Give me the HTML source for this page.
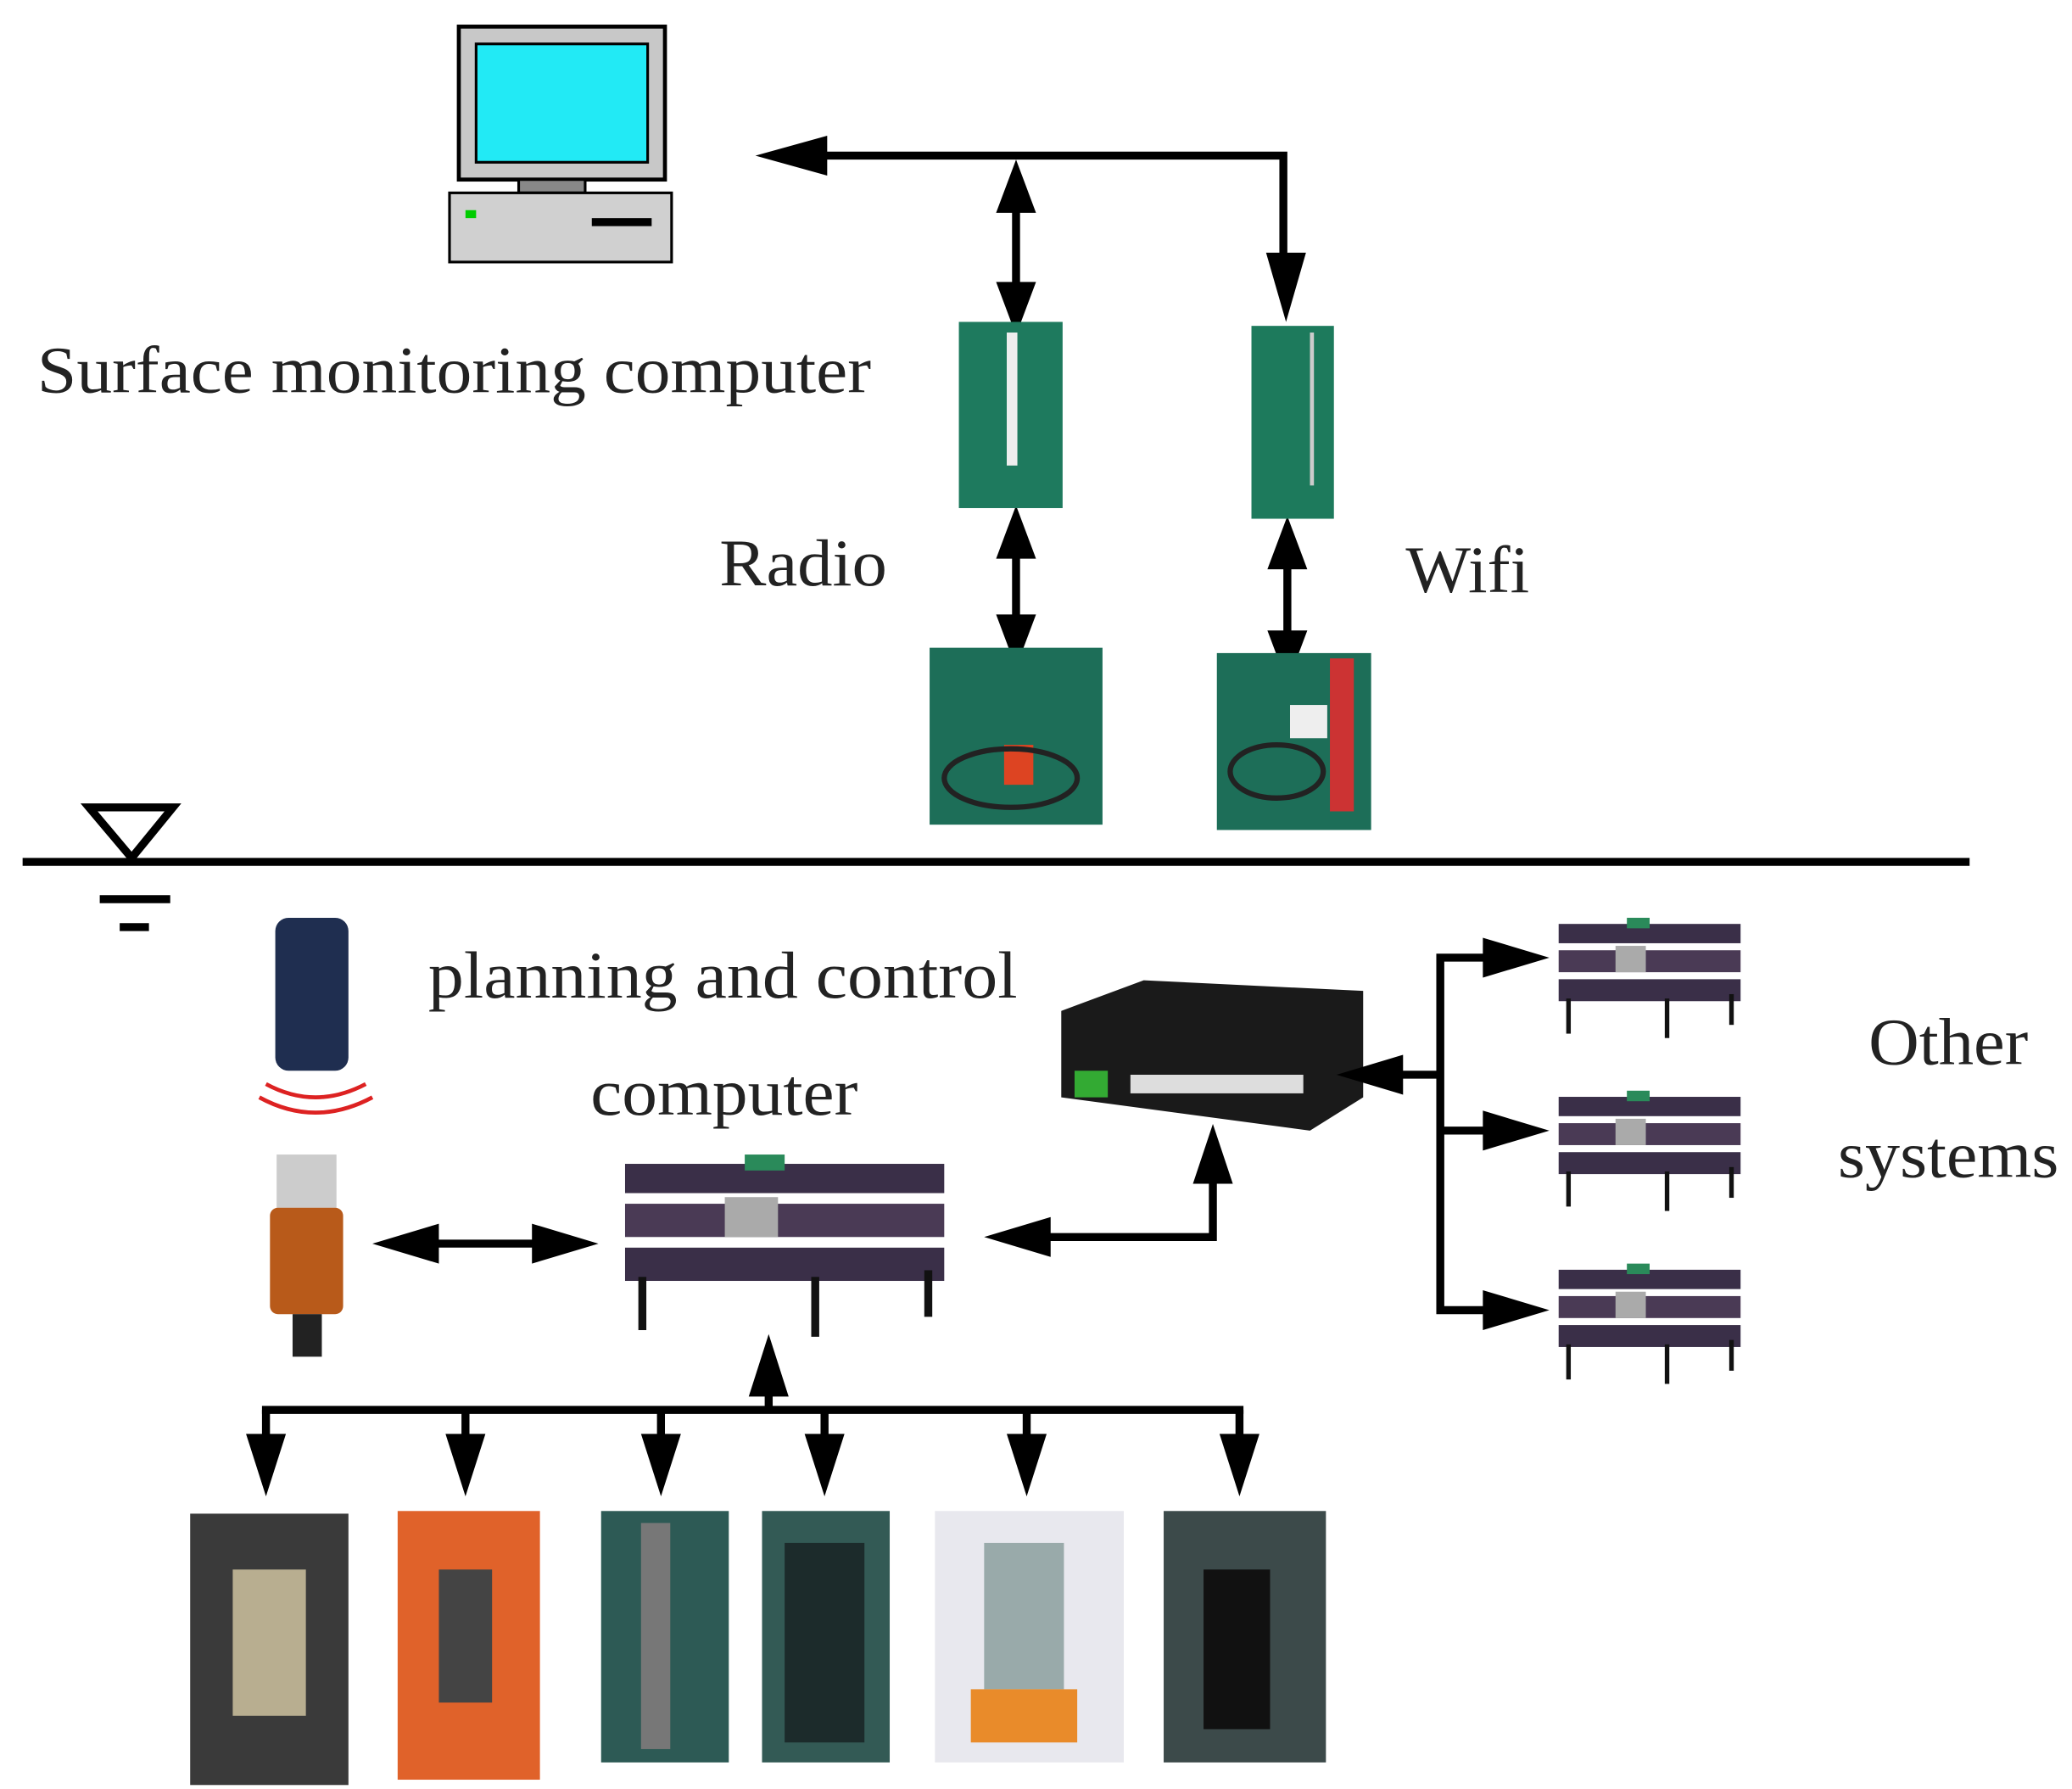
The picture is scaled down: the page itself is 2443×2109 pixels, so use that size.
<!DOCTYPE html>
<html><head><meta charset="utf-8"><style>
html,body{margin:0;padding:0;background:#fff;}
svg{display:block;}
text{font-family:"Liberation Serif",serif;fill:#222;}
</style></head><body>
<svg width="2443" height="2109" viewBox="0 0 1558 1345" preserveAspectRatio="none" xmlns="http://www.w3.org/2000/svg">
<rect width="1558" height="1345" fill="#fff"/>
<!-- monitor -->
<rect x="345" y="20" width="155" height="115" fill="#c8c8c8" stroke="#000" stroke-width="3"/>
<rect x="358" y="33" width="129" height="89" fill="#22eaf5" stroke="#000" stroke-width="2"/>
<rect x="390" y="135" width="50" height="10" fill="#888" stroke="#000" stroke-width="2"/>
<rect x="338" y="145" width="167" height="52" fill="#d0d0d0" stroke="#000" stroke-width="2"/>
<rect x="350" y="158" width="8" height="6" fill="#0c0"/>
<rect x="445" y="164" width="45" height="6" fill="#000"/>
<text x="28" y="295" font-size="50" textLength="627" lengthAdjust="spacingAndGlyphs">Surface monitoring computer</text>
<text x="541" y="440" font-size="50" textLength="126" lengthAdjust="spacingAndGlyphs">Radio</text>
<text x="1057" y="445" font-size="50" textLength="93" lengthAdjust="spacingAndGlyphs">Wifi</text>
<!-- top arrows -->
<g stroke="#000" stroke-width="6" fill="none">
<polyline points="615,117 965,117 965,205"/>
<line x1="764" y1="155" x2="764" y2="215"/>
<line x1="764" y1="410" x2="764" y2="470"/>
<line x1="968" y1="420" x2="968" y2="480"/>
</g>
<g fill="#000">
<polygon points="568,117 622,102 622,132"/>
<polygon points="967,242 952,190 982,190"/>
<polygon points="764,120 749,160 779,160"/><polygon points="764,252 749,212 779,212"/>
<polygon points="764,380 749,420 779,420"/><polygon points="764,502 749,462 779,462"/>
<polygon points="968,388 953,428 983,428"/><polygon points="968,514 953,474 983,474"/>
</g>
<!-- photos top -->
<rect x="721" y="242" width="78" height="140" fill="#1e7a5e"/>
<rect x="757" y="250" width="8" height="100" fill="#eee"/>
<rect x="941" y="245" width="62" height="145" fill="#1d7a5c"/>
<rect x="985" y="250" width="3" height="115" fill="#ccc"/>
<rect x="699" y="487" width="130" height="133" fill="#1d6e58"/>
<rect x="755" y="560" width="22" height="30" fill="#d42"/>
<ellipse cx="760" cy="585" rx="50" ry="22" fill="none" stroke="#222" stroke-width="4"/>
<rect x="915" y="491" width="116" height="133" fill="#1d6e58"/>
<rect x="1000" y="495" width="18" height="115" fill="#c33"/>
<rect x="970" y="530" width="28" height="25" fill="#eee"/>
<ellipse cx="960" cy="580" rx="35" ry="20" fill="none" stroke="#222" stroke-width="4"/>
<!-- water -->
<line x1="17" y1="648" x2="1481" y2="648" stroke="#000" stroke-width="6"/>
<polygon points="67,607 130,607 99,645" fill="none" stroke="#000" stroke-width="6"/>
<line x1="75" y1="676" x2="128" y2="676" stroke="#000" stroke-width="6"/>
<line x1="90" y1="697" x2="112" y2="697" stroke="#000" stroke-width="6"/>
<!-- sonar -->
<rect x="207" y="690" width="55" height="115" rx="10" fill="#1f2e50"/>
<path d="M200,815 Q237,835 275,815 M195,825 Q237,848 280,825" stroke="#d22" stroke-width="3" fill="none"/>
<!-- DVL -->
<rect x="208" y="868" width="45" height="40" fill="#ccc"/>
<rect x="203" y="908" width="55" height="80" rx="6" fill="#b85a1a"/>
<rect x="220" y="988" width="22" height="32" fill="#222"/>
<text x="322" y="750" font-size="50" textLength="443" lengthAdjust="spacingAndGlyphs">planning and control</text>
<text x="444" y="838" font-size="50" textLength="201" lengthAdjust="spacingAndGlyphs">computer</text>
<!-- stack computer -->
<g id="stk">
<rect x="470" y="875" width="240" height="22" fill="#3a2f48"/>
<rect x="470" y="905" width="240" height="25" fill="#4a3a55"/>
<rect x="470" y="938" width="240" height="25" fill="#3a2f48"/>
<rect x="480" y="960" width="6" height="40" fill="#111"/><rect x="610" y="960" width="6" height="45" fill="#111"/><rect x="695" y="955" width="6" height="35" fill="#111"/>
<rect x="545" y="900" width="40" height="30" fill="#aaa"/>
<rect x="560" y="868" width="30" height="12" fill="#2a8a5a"/>
</g>
<!-- switch -->
<polygon points="798,760 860,737 1025,745 1025,825 985,850 798,825" fill="#1a1a1a"/>
<rect x="808" y="805" width="25" height="20" fill="#3a3"/>
<rect x="850" y="808" width="130" height="14" fill="#ddd"/>
<!-- arrows -->
<g stroke="#000" stroke-width="6" fill="none">
<line x1="320" y1="935" x2="410" y2="935"/>
<polyline points="780,930 912,930 912,885"/>
<polyline points="1045,808 1083,808"/>
<polyline points="1125,720 1083,720 1083,985 1125,985"/>
<line x1="1083" y1="850" x2="1125" y2="850"/>
<line x1="197" y1="1060" x2="935" y2="1060"/>
<line x1="578" y1="1060" x2="578" y2="1040"/>
<line x1="200" y1="1060" x2="200" y2="1090"/><line x1="350" y1="1060" x2="350" y2="1090"/>
<line x1="497" y1="1060" x2="497" y2="1090"/><line x1="620" y1="1060" x2="620" y2="1090"/>
<line x1="772" y1="1060" x2="772" y2="1090"/><line x1="932" y1="1060" x2="932" y2="1090"/>
</g>
<g fill="#000">
<polygon points="280,935 330,920 330,950"/><polygon points="450,935 400,920 400,950"/>
<polygon points="740,930 790,915 790,945"/>
<polygon points="912,845 897,890 927,890"/>
<polygon points="1005,808 1055,793 1055,823"/>
<polygon points="1165,720 1115,705 1115,735"/>
<polygon points="1165,850 1115,835 1115,865"/>
<polygon points="1165,985 1115,970 1115,1000"/>
<polygon points="578,1003 563,1050 593,1050"/>
<polygon points="200,1125 185,1078 215,1078"/><polygon points="350,1125 335,1078 365,1078"/>
<polygon points="497,1125 482,1078 512,1078"/><polygon points="620,1125 605,1078 635,1078"/>
<polygon points="772,1125 757,1078 787,1078"/><polygon points="932,1125 917,1078 947,1078"/>
</g>
<!-- other systems stacks -->
<use href="#stk" transform="translate(1172,690) scale(0.57,0.66) translate(-470,-868)"/>
<use href="#stk" transform="translate(1172,820) scale(0.57,0.66) translate(-470,-868)"/>
<use href="#stk" transform="translate(1172,950) scale(0.57,0.66) translate(-470,-868)"/>
<text x="1405" y="800" font-size="50" textLength="120" lengthAdjust="spacingAndGlyphs">Other</text>
<text x="1382" y="885" font-size="50" textLength="166" lengthAdjust="spacingAndGlyphs">systems</text>
<!-- bottom photos -->
<rect x="143" y="1138" width="119" height="204" fill="#3a3a3a"/>
<rect x="175" y="1180" width="55" height="110" fill="#b8ae90"/>
<rect x="299" y="1136" width="107" height="202" fill="#e0622a"/>
<rect x="330" y="1180" width="40" height="100" fill="#444"/>
<rect x="452" y="1136" width="96" height="189" fill="#2d5a55"/>
<rect x="482" y="1145" width="22" height="170" fill="#777"/>
<rect x="573" y="1136" width="96" height="189" fill="#335a55"/>
<rect x="590" y="1160" width="60" height="150" fill="#1c2b2b"/>
<rect x="703" y="1136" width="142" height="189" fill="#e8e8ee"/>
<rect x="740" y="1160" width="60" height="110" fill="#9aa"/>
<rect x="730" y="1270" width="80" height="40" fill="#e98b2a"/>
<rect x="875" y="1136" width="122" height="189" fill="#3c4a4a"/>
<rect x="905" y="1180" width="50" height="120" fill="#111"/>
</svg>
</body></html>
